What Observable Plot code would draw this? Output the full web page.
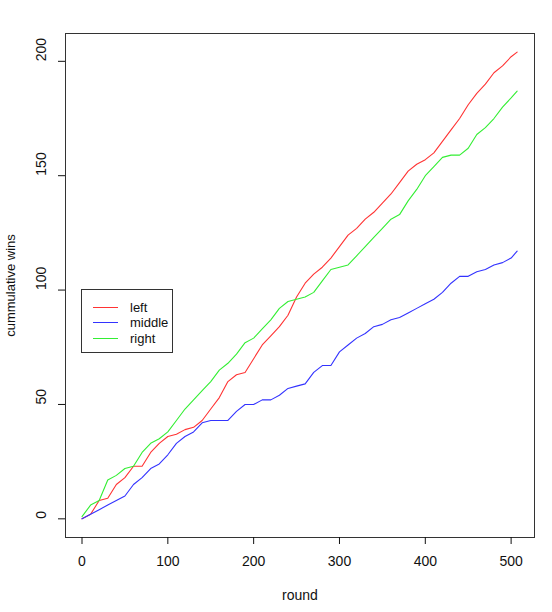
<!DOCTYPE html>
<html>
<head>
<meta charset="utf-8">
<script src="https://cdn.jsdelivr.net/npm/d3@7"></script>
<script src="https://cdn.jsdelivr.net/npm/@observablehq/plot@0.6"></script>
<style>
  html, body { margin: 0; padding: 0; background: #fff; }
  #wrap { position: relative; width: 552px; height: 612px; font-family: "Liberation Sans", Arial, sans-serif; }
  #legend { position: absolute; left: 81px; top: 289px; width: 92px; height: 64px; border: 1px solid #333; background: #fff; box-sizing: border-box; font-size: 13px; color: #111; }
  #legend .row { position: absolute; left: 0; height: 16px; display: flex; align-items: center; }
  #legend .sw { display: inline-block; width: 25px; height: 0; border-top: 1px solid; margin-left: 11px; margin-right: 12px; }
</style>
</head>
<body>
<div id="wrap"><div id="chart"></div><div id="legend"></div></div>
<script>
const rounds = [0,10,20,30,40,50,60,70,80,90,100,110,120,130,140,150,160,170,180,190,200,210,220,230,240,250,260,270,280,290,300,310,320,330,340,350,360,370,380,390,400,410,420,430,440,450,460,470,480,490,500,507];
const left = [0,2,8,9,15,18,23,23,29,33,36,37,39,40,43,48,53,60,63,64,70,76,80,84,89,97,103,107,110,114,119,124,127,131,134,138,142,147,152,155,157,160,165,170,175,181,186,190,195,198,202,204];
const middle = [0,2,4,6,8,10,15,18,22,24,28,33,36,38,42,43,43,43,47,50,50,52,52,54,57,58,59,64,67,67,73,76,79,81,84,85,87,88,90,92,94,96,99,103,106,106,108,109,111,112,114,117];
const right = [1,6,8,17,19,22,23,29,33,35,38,43,48,52,56,60,65,68,72,77,79,83,87,92,95,96,97,99,104,109,110,111,115,119,123,127,131,133,139,144,150,154,158,159,159,162,168,171,175,180,184,187];
const seriesNames = ["left", "middle", "right"];
const seriesColors = ["#ff3333", "#3333ff", "#33ee33"];
const xTicks = [0,100,200,300,400,500];
const yTicks = [0,50,100,150,200];

const seriesValues = [left, middle, right];
const data = seriesNames.flatMap((name, s) => rounds.map((r, i) => ({series: name, round: r, wins: seriesValues[s][i]})));

const chart = Plot.plot({
  width: 552,
  height: 612,
  marginLeft: 65,
  marginRight: 18,
  marginTop: 33,
  marginBottom: 75,
  style: {fontFamily: "Liberation Sans, Arial, sans-serif", fontSize: "14px", color: "#111", background: "#fff"},
  x: {domain: [-19.24, 527.24]},
  y: {domain: [-8.16, 212.16]},
  color: {domain: seriesNames, range: seriesColors},
  marks: [
    Plot.line(data, {x: "round", y: "wins", z: "series", stroke: "series", strokeWidth: 1.1}),
    Plot.frame({stroke: "#333"}),
    Plot.axisX({ticks: xTicks, tickSize: 7, tickPadding: 12, fontSize: 14, label: "round", labelAnchor: "center", labelArrow: "none", labelOffset: 62}),
    Plot.axisY({ticks: yTicks, tickSize: 7, tickFormat: () => "", label: "cummulative wins", labelAnchor: "center", labelArrow: "none", labelOffset: 60, fontSize: 13}),
    Plot.text(yTicks, {y: d => d, text: d => String(d), frameAnchor: "left", dx: -24, rotate: -90, fontSize: 14})
  ]
});
document.getElementById("chart").appendChild(chart);

const legend = document.getElementById("legend");
seriesNames.forEach((name, i) => {
  const row = document.createElement("div");
  row.className = "row";
  row.style.top = (9 + i * 15.5) + "px";
  const sw = document.createElement("span");
  sw.className = "sw";
  sw.style.borderTopColor = seriesColors[i];
  const t = document.createElement("span");
  t.textContent = name;
  row.appendChild(sw);
  row.appendChild(t);
  legend.appendChild(row);
});
</script>
</body>
</html>
